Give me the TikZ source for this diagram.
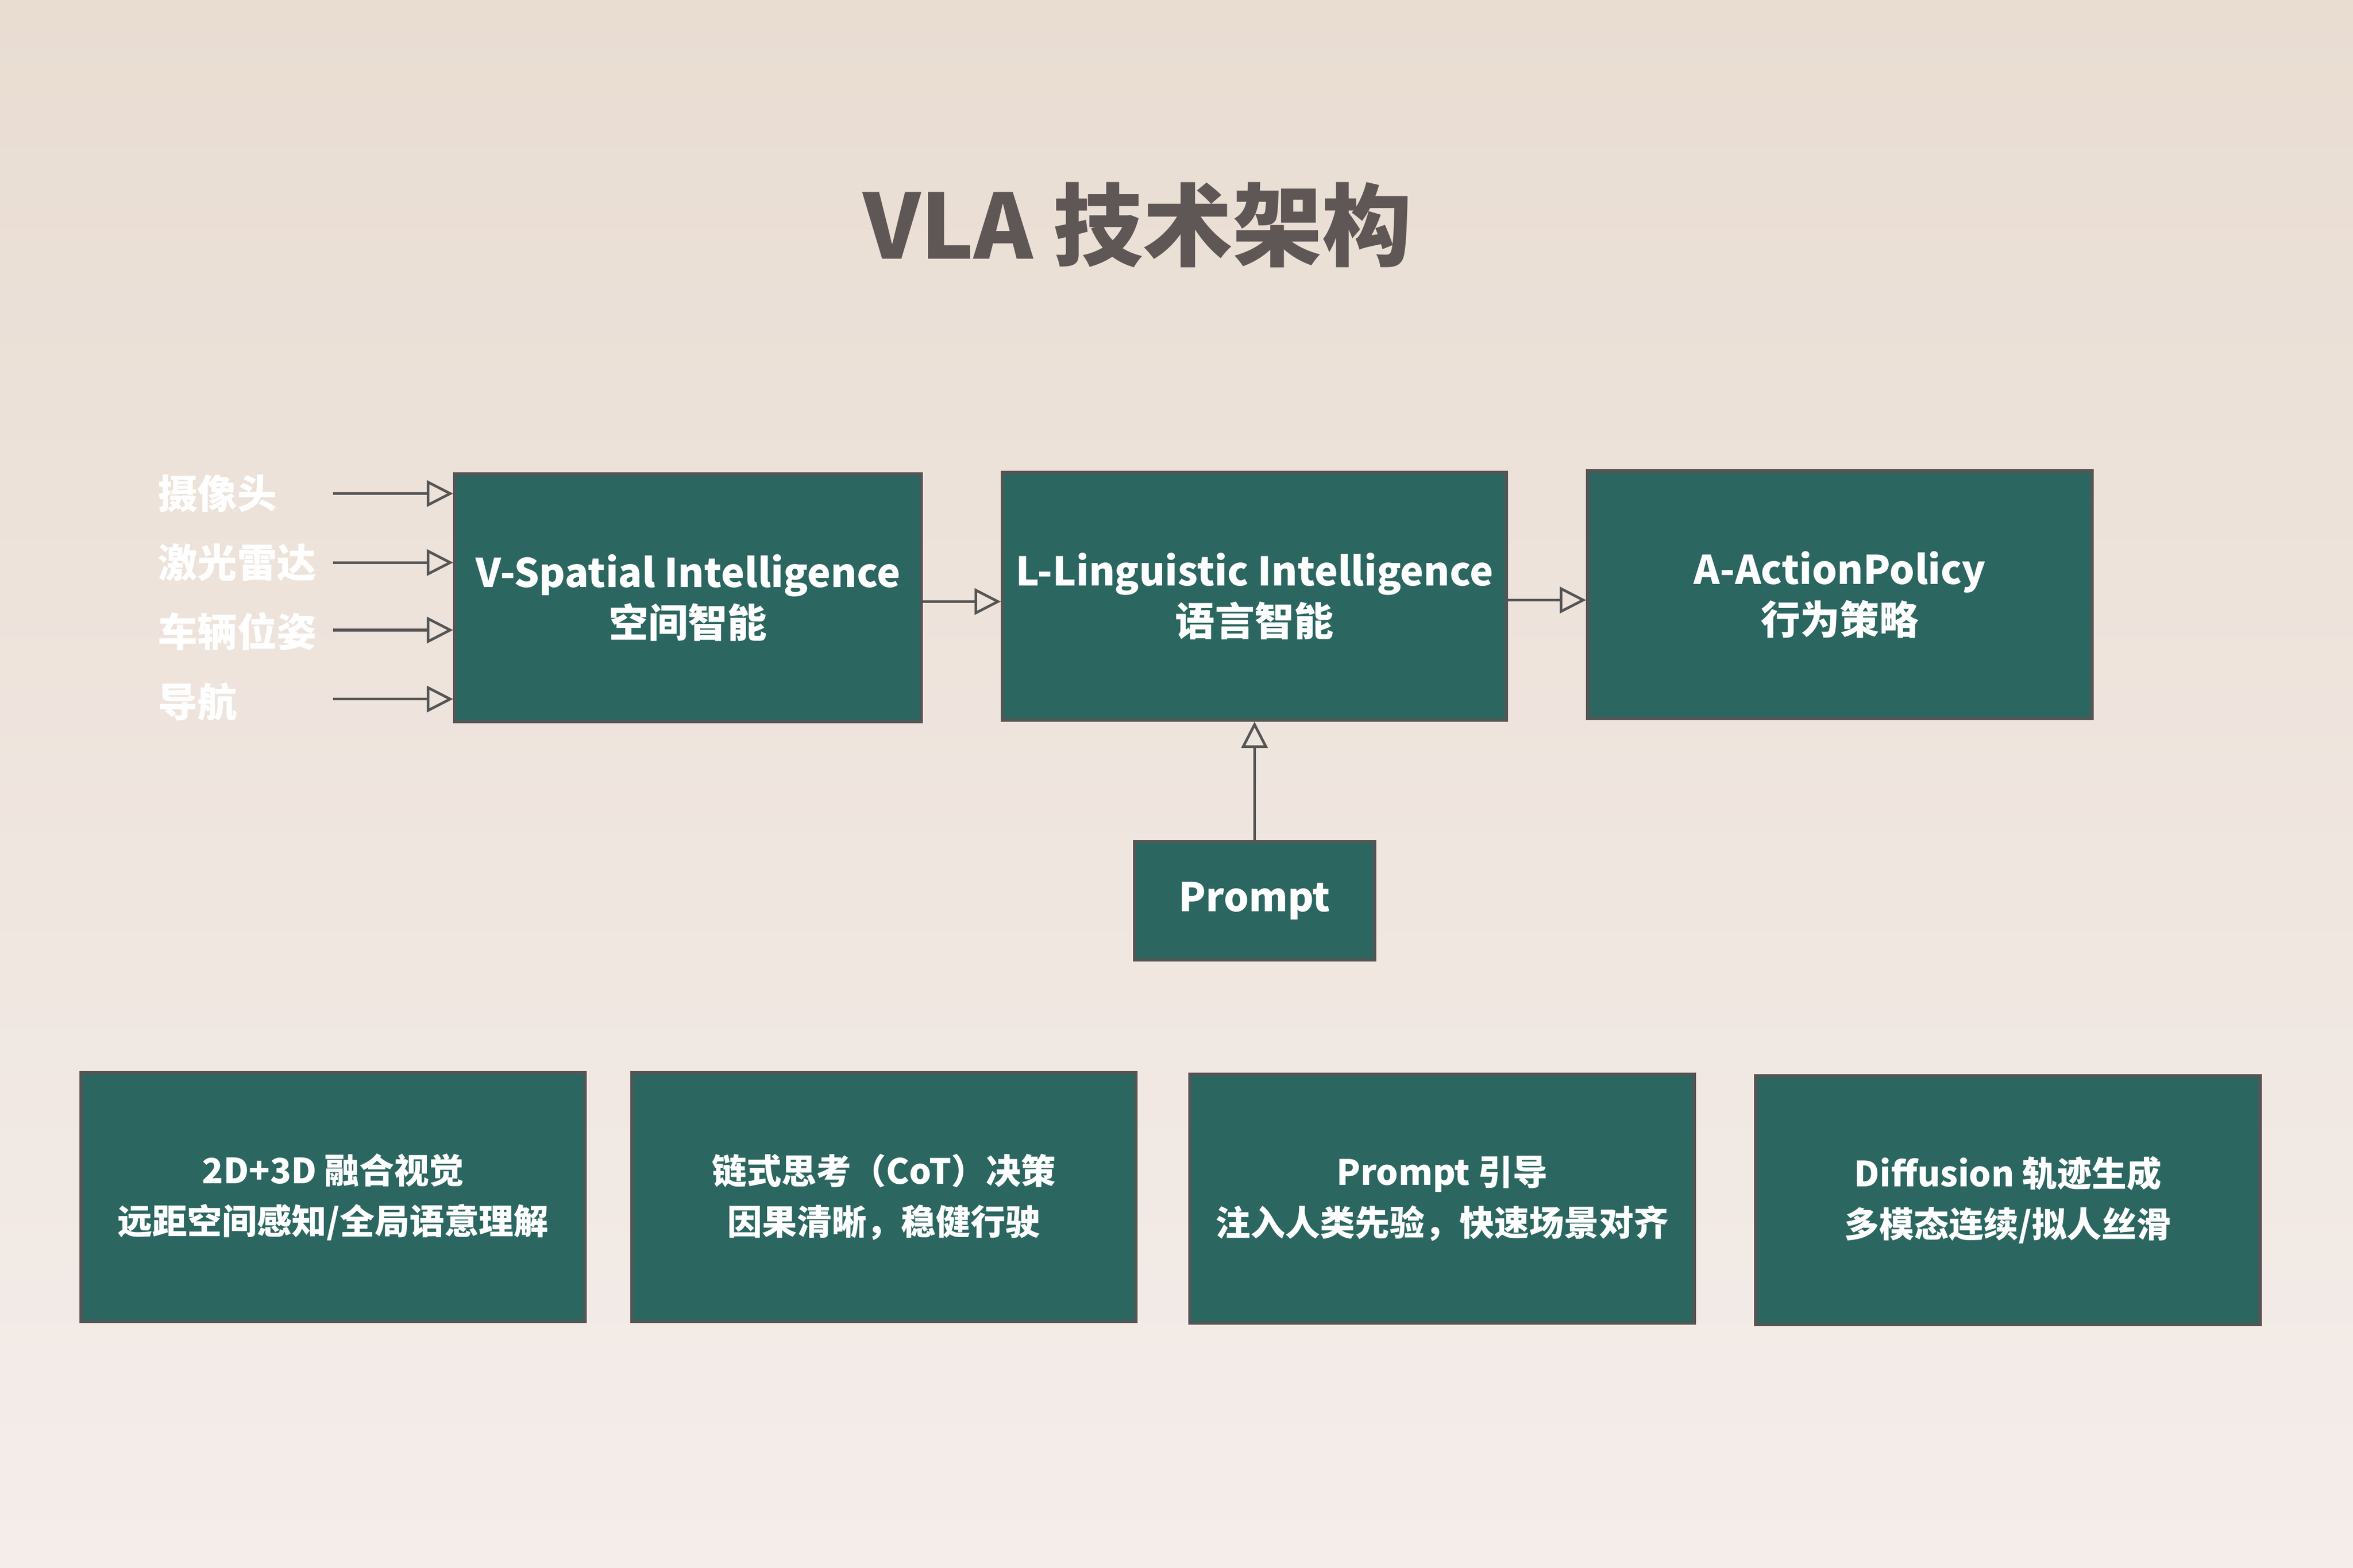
\documentclass[tikz,border=0pt]{standalone}
\usepackage{fontspec}
\setmainfont{Noto Sans CJK SC}
\usetikzlibrary{arrows.meta}
\definecolor{boxgreen}{HTML}{2B6660}
\definecolor{bordergray}{HTML}{555555}
\definecolor{titlegray}{HTML}{5F5656}
\definecolor{bgtop}{HTML}{E9DDD2}
\definecolor{bgbottom}{HTML}{F4EDEA}
\definecolor{linegray}{HTML}{555555}
\tikzset{
  block/.style={shape=rectangle, draw=bordergray, line width=0.6pt, fill=boxgreen,
    text=white, font=\fontsize{7.5}{9.6}\selectfont\bfseries, align=center, inner sep=0pt},
  lowblock/.style={block, minimum width=3.36cm, minimum height=1.66cm,
    font=\fontsize{6.6}{9.6}\selectfont\bfseries},
  sensor/.style={anchor=west, text=white, font=\fontsize{7.5}{10}\selectfont\bfseries},
  flow/.style={-{Triangle[open, length=5pt, width=5pt]}, draw=linegray, line width=0.5pt}
}
\begin{document}
\begin{tikzpicture}
  \shade[top color=bgtop, bottom color=bgbottom] (0,0) rectangle (15.68,10.45);
  \useasboundingbox (0,0) rectangle (15.68,10.45);
  \node[text=titlegray, font=\fontsize{17}{20}\selectfont\bfseries] (title) at (7.58,8.95) {VLA 技术架构};
  % main chain
  \node[block, minimum width=3.11cm, minimum height=1.65cm] (spatial) at (4.585,6.465) {V-Spatial Intelligence\\空间智能};
  \node[block, minimum width=3.36cm, minimum height=1.65cm] (linguistic) at (8.36,6.475) {L-Linguistic Intelligence\\语言智能};
  \node[block, minimum width=3.36cm, minimum height=1.65cm] (action) at (12.26,6.485) {A-ActionPolicy\\行为策略};
  \node[block, minimum width=1.60cm, minimum height=0.79cm] (prompt) at (8.36,4.445) {Prompt};
  % sensors
  \node[sensor] (camera) at (0.93,7.16) {摄像头};
  \node[sensor] (lidar) at (0.93,6.70) {激光雷达};
  \node[sensor] (pose) at (0.93,6.24) {车辆位姿};
  \node[sensor] (nav) at (0.93,5.77) {导航};
  \coordinate (c1) at (2.22,7.16);
  \coordinate (c2) at (2.22,6.70);
  \coordinate (c3) at (2.22,6.25);
  \coordinate (c4) at (2.22,5.79);
  \foreach \c in {c1,c2,c3,c4}
    \draw[flow] (\c) -- (\c -| spatial.west);
  \draw[flow] (spatial.east |- 0,6.44) -- (linguistic.west |- 0,6.44);
  \draw[flow] (linguistic.east |- 0,6.45) -- (action.west |- 0,6.45);
  \draw[flow] (prompt.north) -- (linguistic.south);
  % features
  \node[lowblock] (fusion) at (2.22,2.47) {2D+3D 融合视觉\\远距空间感知/全局语意理解};
  \node[lowblock] (cot) at (5.89,2.47) {链式思考（CoT）决策\\因果清晰，稳健行驶};
  \node[lowblock] (guide) at (9.61,2.46) {Prompt 引导\\注入人类先验，快速场景对齐};
  \node[lowblock] (diffusion) at (13.38,2.45) {Diffusion 轨迹生成\\多模态连续/拟人丝滑};
\end{tikzpicture}
\end{document}
